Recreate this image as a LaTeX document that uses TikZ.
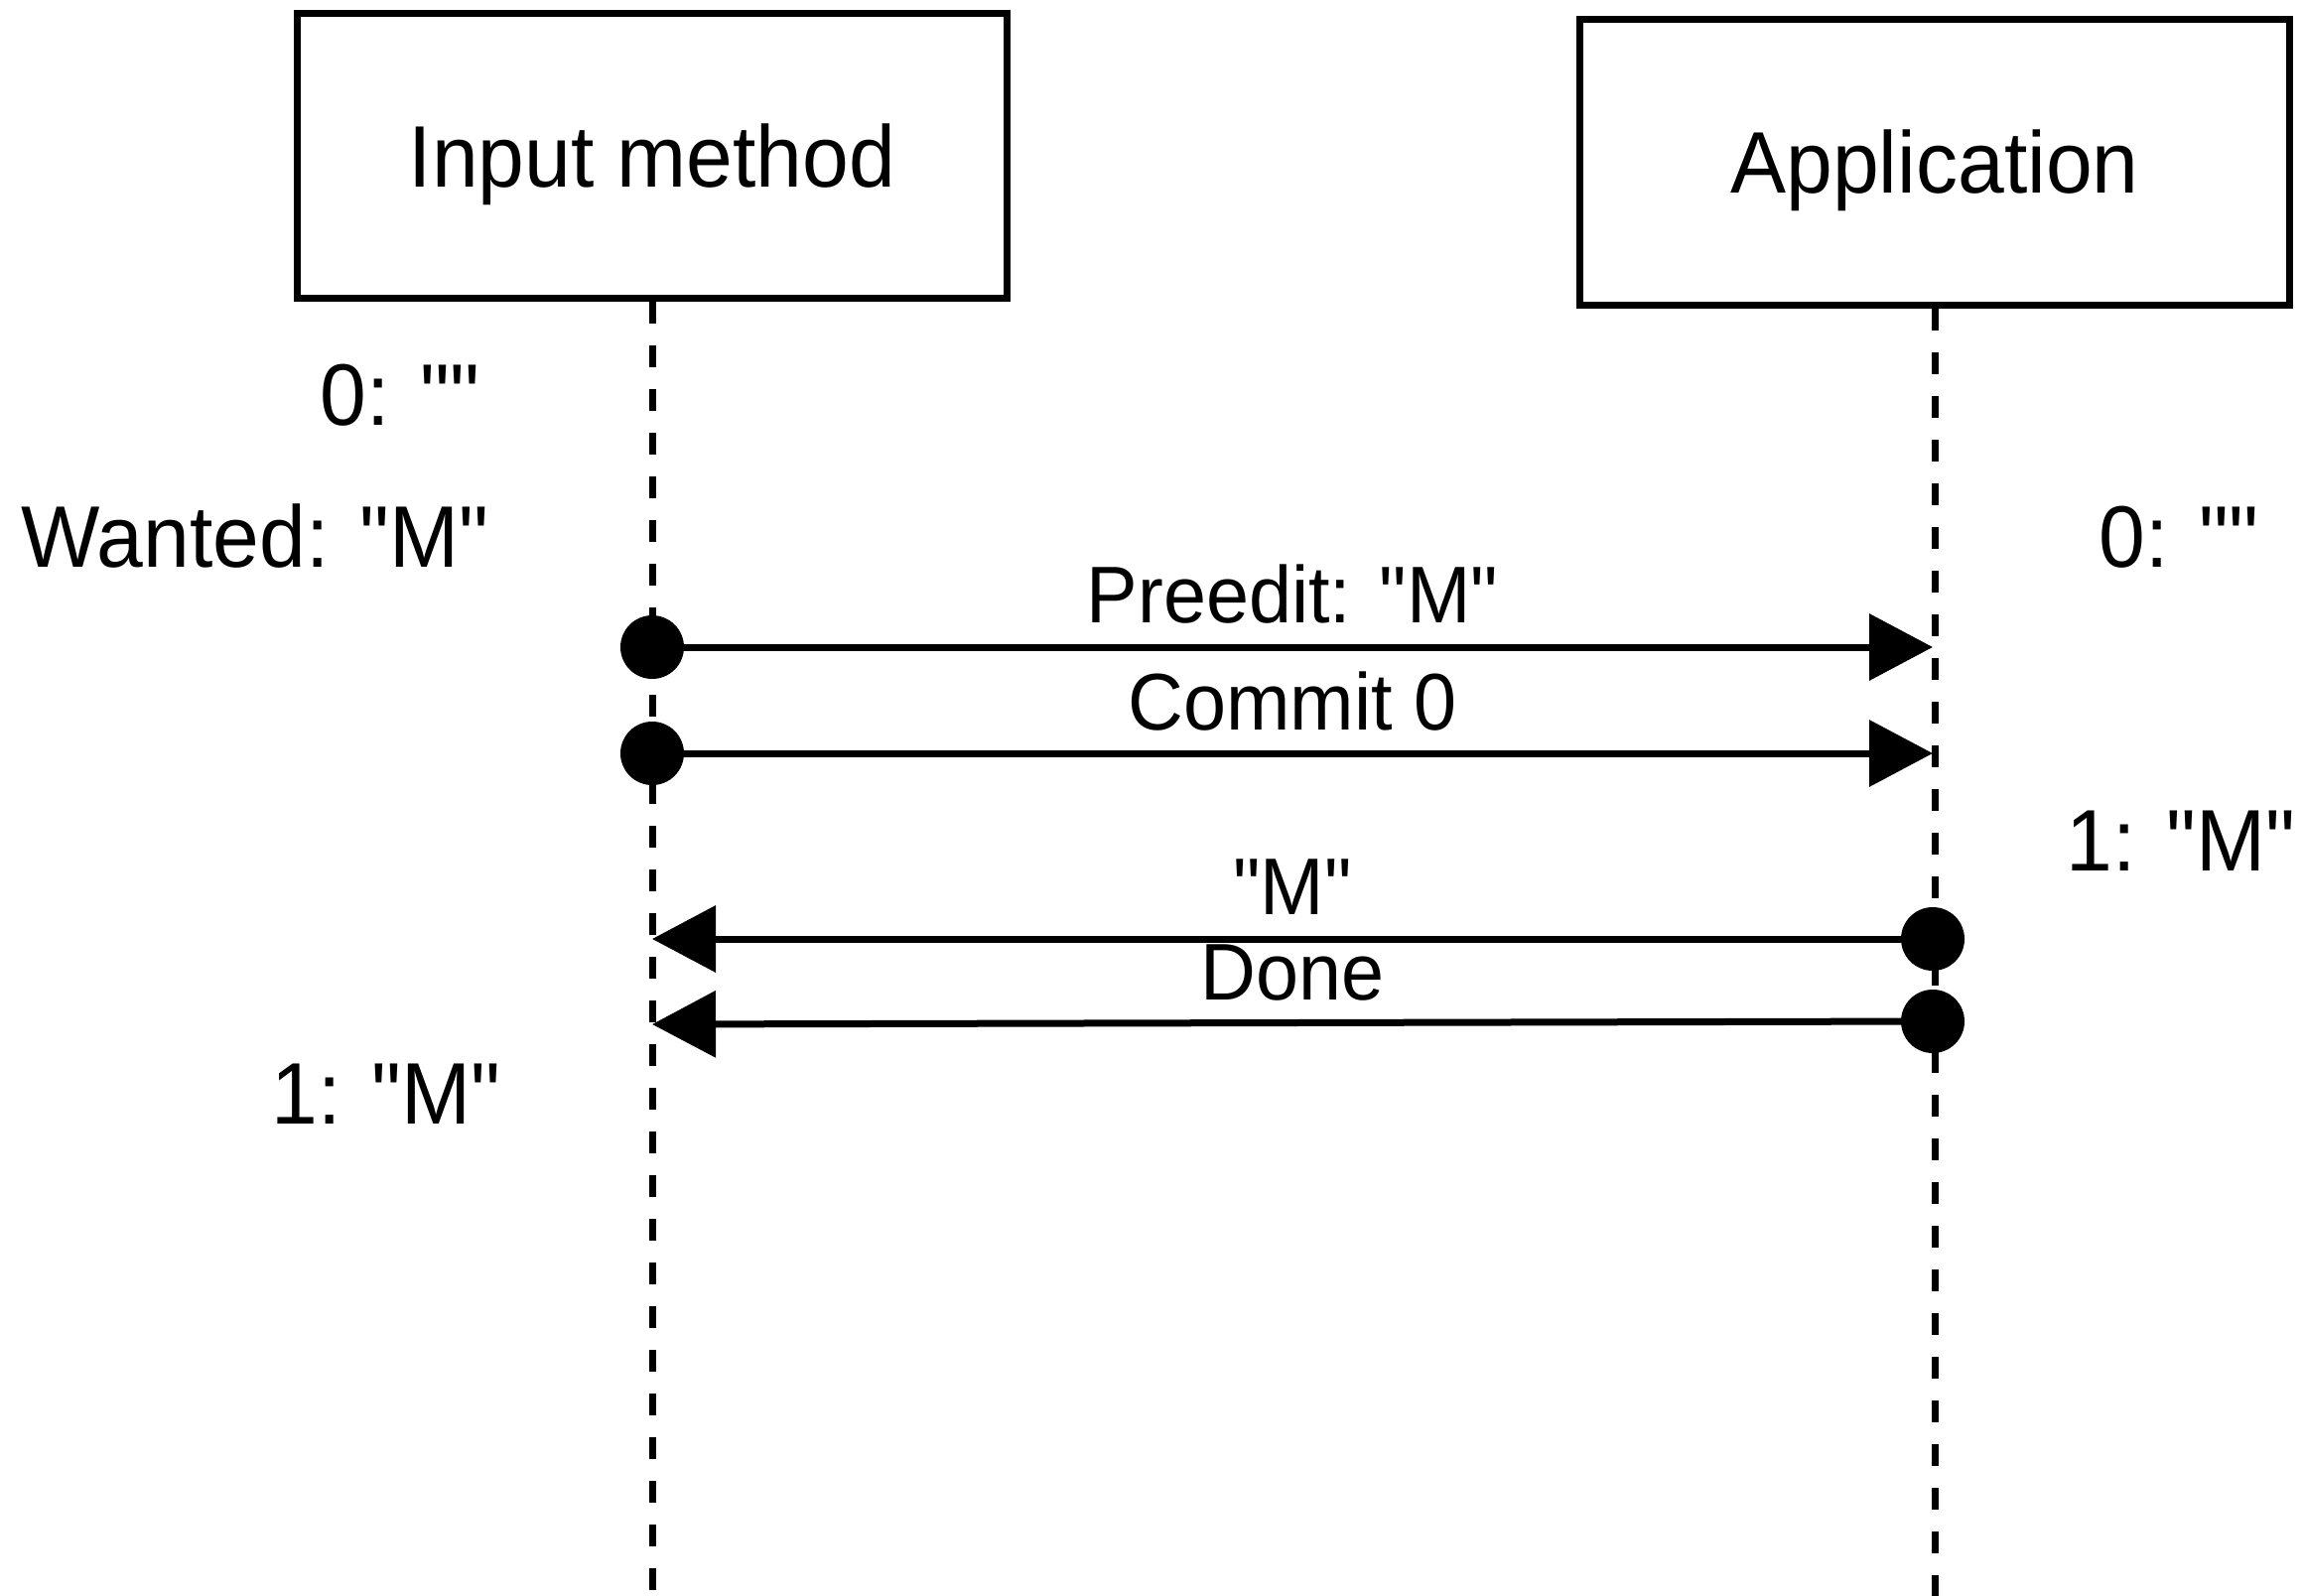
\documentclass[tikz,border=0pt]{standalone}
\usepackage{fontspec}
\newfontfamily\lsf{Liberation Sans}[FakeStretch=0.955]
\usetikzlibrary{arrows.meta,calc}
\begin{document}
\begin{tikzpicture}[x=1pt,y=-1pt,
  every node/.style={font=\lsf\fontsize{88pt}{100pt}\selectfont},
  actor/.style={draw, line width=7pt, minimum width=715pt, minimum height=287pt, inner sep=0pt, text height=63pt, text depth=0pt},
  life/.style={line width=7pt, dash pattern=on 22pt off 22pt},
  dot/.style={circle, fill, inner sep=0pt, minimum size=64pt},
  msg/.style={line width=7pt, -{Triangle[length=64pt,width=66pt]}},
  lbl/.style={anchor=base, yshift=25pt, font=\lsf\fontsize{81pt}{95pt}\selectfont},
  txt/.style={anchor=base}]
\useasboundingbox (0,0) rectangle (2320,1608);
\node[actor] (im) at (657,157) {Input method};
\node[actor] (app) at (1949,163.5) {Application};
\coordinate (imEnd) at (657,1608);
\coordinate (appEnd) at (1949,1608);
\draw[life] (im.south) -- (imEnd);
\draw[life] (app.south) -- (appEnd);
\node[dot] (d1) at (657,652) {};
\node[dot] (d2) at (657,759) {};
\node[dot] (d3) at (1947,946) {};
\node[dot] (d4) at (1947,1029) {};
\coordinate (t1) at (1947,652);
\coordinate (t2) at (1947,759);
\coordinate (t3) at (657,946);
\coordinate (t4) at (657,1032);
\draw[msg] (d1) -- (t1) node[lbl] at ($(d1.center)!0.5!(t1)$) {Preedit: "M"};
\draw[msg] (d2) -- (t2) node[lbl, yshift=-1pt] at ($(d2.center)!0.5!(t2)$) {Commit 0};
\draw[msg] (d3) -- (t3) node[lbl] at ($(d3.center)!0.5!(t3)$) {"M"};
\draw[msg] (d4) -- (t4) node[lbl, yshift=-2pt] at ($(d4.center)!0.5!(t4)$) {Done};
\node[txt] (l0) at (403,428) {0: ""};
\node[txt] (lw) at (257,571) {Wanted: "M"};
\node[txt] (r0) at (2195,571) {0: ""};
\node[txt] (r1) at (2197,877) {1: "M"};
\node[txt] (l1) at (389,1132) {1: "M"};
\end{tikzpicture}
\end{document}
